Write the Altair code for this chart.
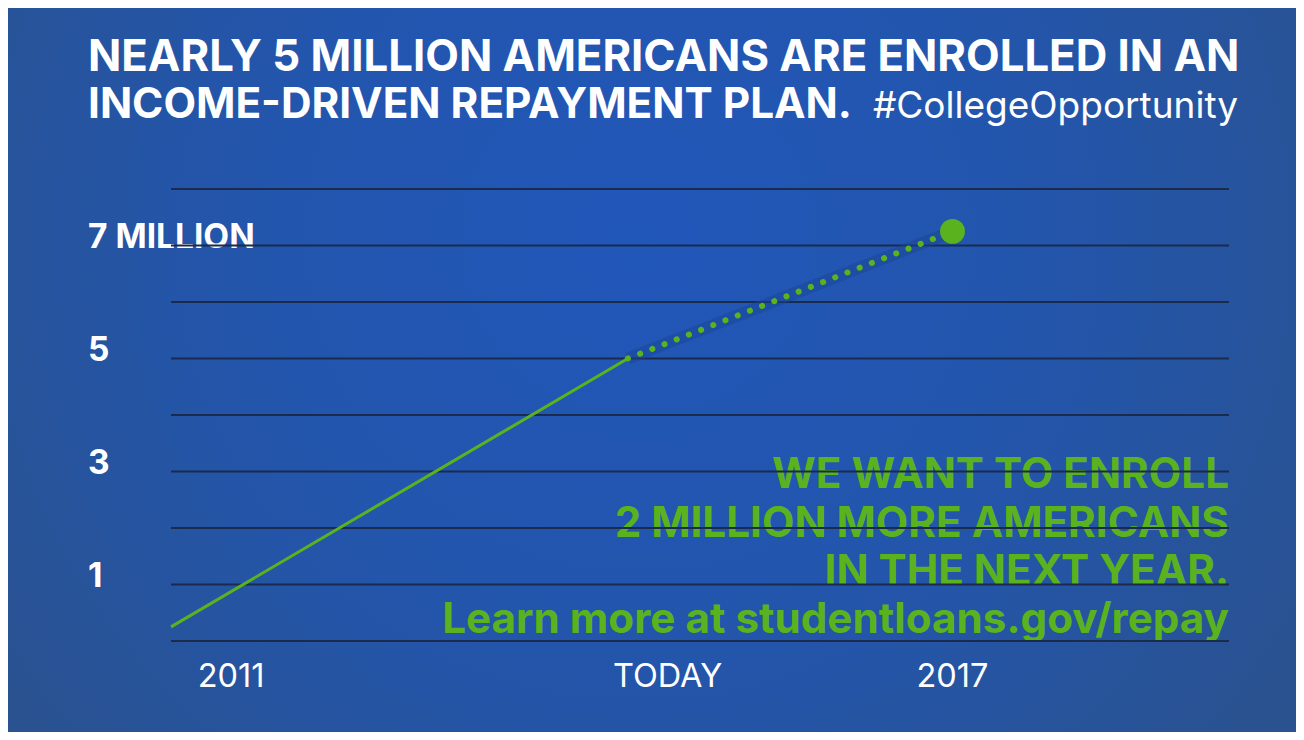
import altair as alt
import pandas as pd

# ---- data ----
grid_values = [0, 1, 2, 3, 4, 5, 6, 7, 8]
y_label_values = [1, 3, 5, 7]
y_label_texts = ["1", "3", "5", "7 MILLION"]
x_label_positions = [2011, 2014.63, 2017]
x_label_texts = ["2011", "TODAY", "2017"]
actual_years = [2010.5, 2014.3]
actual_values = [0.25, 5.0]
goal_years = [2014.3, 2017.0]
goal_values = [5.0, 7.25]
target_year = [2017.0]
target_value = [7.25]
title_line1 = "NEARLY 5 MILLION AMERICANS ARE ENROLLED IN AN"
title_line2 = "INCOME-DRIVEN REPAYMENT PLAN."
hashtag = "#CollegeOpportunity"
message_lines = ["WE WANT TO ENROLL", "2 MILLION MORE AMERICANS",
                 "IN THE NEXT YEAR.", "Learn more at studentloans.gov/repay"]

GREEN = "#5ab31e"
GRID = "#1a2b4c"
FONT = "Inter"

W, H = 1058, 452
PAD = {"left": 163, "top": 181, "right": 67, "bottom": 91}

xs = alt.Scale(domain=[2010.5, 2019.3], nice=False, zero=False)
ys = alt.Scale(domain=[0, 8], nice=False, zero=False)

one = pd.DataFrame({"a": [0]})

bg = alt.Chart(one).mark_rect(
    color=alt.Gradient(
        gradient="radial",
        stops=[alt.GradientStop(offset=0, color="#2157ba"),
               alt.GradientStop(offset=0.45, color="#2355ab"),
               alt.GradientStop(offset=1, color="#2d5186")],
        x1=0.49, y1=0.40, x2=0.49, y2=0.40, r1=0, r2=0.72)
).encode(x=alt.value(-PAD["left"]), x2=alt.value(W + PAD["right"]),
         y=alt.value(-PAD["top"]), y2=alt.value(H + PAD["bottom"]))

# titles
t1 = alt.Chart(one).mark_text(text=title_line1, font=FONT, fontWeight="bold", fontSize=43.7,
                              color="white", align="left", baseline="alphabetic").encode(
    x=alt.value(-83), y=alt.value(-118))
t2 = alt.Chart(one).mark_text(text=title_line2, font=FONT, fontWeight="bold", fontSize=42.3,
                              color="white", align="left", baseline="alphabetic").encode(
    x=alt.value(-83), y=alt.value(-71))
t3 = alt.Chart(one).mark_text(text=hashtag, font=FONT, fontWeight=400, fontSize=37,
                              color="white", align="right", baseline="alphabetic").encode(
    x=alt.value(1067), y=alt.value(-71))

# message
msg_layers = []
msg_baselines = [299, 348, 396, 444]
for line, b in zip(message_lines, msg_baselines):
    msg_layers.append(alt.Chart(one).mark_text(
        text=line, font=FONT, fontWeight="bold", fontSize=42.2, color=GREEN,
        align="right", baseline="alphabetic").encode(x=alt.value(W), y=alt.value(b)))

# y labels
ylab_df = pd.DataFrame({"v": y_label_values, "t": y_label_texts})
ylab = alt.Chart(ylab_df).mark_text(font=FONT, fontWeight="bold", fontSize=33.5, color="white",
                                     align="left", baseline="alphabetic", dy=2).encode(
    x=alt.value(-83), y=alt.Y("v:Q", scale=ys, axis=None), text="t:N")

# x labels
xlab_df = pd.DataFrame({"x": x_label_positions, "t": x_label_texts})
xlab = alt.Chart(xlab_df).mark_text(font=FONT, fontWeight=400, fontSize=32.5, color="white",
                                     align="center", baseline="middle").encode(
    x=alt.X("x:Q", scale=xs, axis=None), y=alt.value(488), text="t:N")

# gridlines
grid = alt.Chart(pd.DataFrame({"v": grid_values})).mark_rule(color=GRID, strokeWidth=2).encode(
    y=alt.Y("v:Q", scale=ys, axis=None))

actual_df = pd.DataFrame({"x": actual_years, "y": actual_values})
goal_df = pd.DataFrame({"x": goal_years, "y": goal_values})
target_df = pd.DataFrame({"x": target_year, "y": target_value})

actual = alt.Chart(actual_df).mark_line(color=GREEN, strokeWidth=3).encode(
    x=alt.X("x:Q", scale=xs, axis=None), y=alt.Y("y:Q", scale=ys, axis=None))
halo = alt.Chart(goal_df).mark_line(color="#1a4494", strokeWidth=12, opacity=0.5).encode(
    x=alt.X("x:Q", scale=xs, axis=None), y=alt.Y("y:Q", scale=ys, axis=None))
goal = alt.Chart(goal_df).mark_line(color=GREEN, strokeWidth=6, strokeDash=[0.1, 13],
                                     strokeCap="round").encode(
    x=alt.X("x:Q", scale=xs, axis=None), y=alt.Y("y:Q", scale=ys, axis=None))
target = alt.Chart(target_df).mark_circle(color=GREEN, size=620, opacity=1).encode(
    x=alt.X("x:Q", scale=xs, axis=None), y=alt.Y("y:Q", scale=ys, axis=None))

chart = alt.layer(bg, t1, t2, t3, *msg_layers, ylab, xlab, grid, halo, actual, goal, target).properties(
    width=W, height=H, padding=PAD, autosize=alt.AutoSizeParams(type="none"),
    background="#2d5186"
).configure_view(stroke=None)

chart.save("out.html", embed_options={"renderer": "svg", "actions": False})
